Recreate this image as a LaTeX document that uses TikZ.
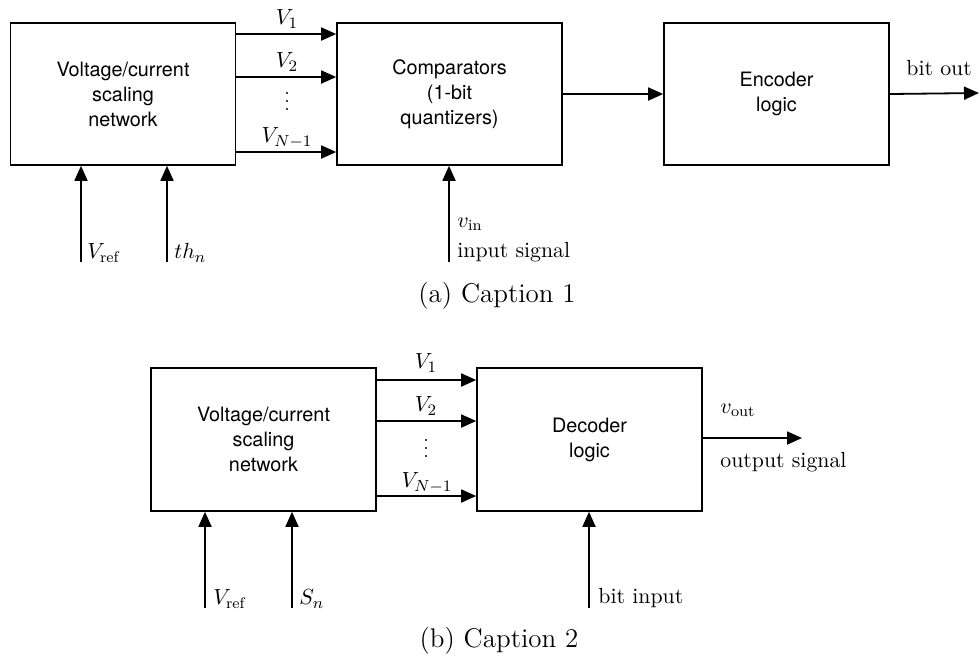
\documentclass[tikz,border=0pt]{standalone}
\usepackage{fontspec}
\newfontfamily\boxfont{TeX Gyre Heros}
\usetikzlibrary{arrows.meta}
\tikzset{
  blk/.style={draw, line width=0.8pt, inner sep=0pt, minimum width=112.5pt, minimum height=71pt,
              align=center, font=\boxfont\fontsize{9.9}{12.5}\selectfont},
  arr/.style={line width=0.9pt, -{Triangle[length=7.5pt,width=6.5pt]}},
  lbl/.style={inner sep=0pt, font=\fontsize{10.9}{13}\selectfont},
  captxt/.style={inner sep=0pt, font=\fontsize{13.5}{16}\selectfont},
  vdotsmark/.pic={\fill (0,-8) circle[radius=0.6pt]; \fill (0,0) circle[radius=0.6pt]; \fill (0,8) circle[radius=0.6pt];}
}
\begin{document}
\begin{tikzpicture}[x=0.5pt, y=-0.5pt]
\useasboundingbox (0,0) rectangle (979,661);
% ---------- (a) ----------
\node[blk] (A1) at (123,94) {Voltage/current\\scaling\\network};
\node[blk] (A2) at (449.5,94) {Comparators\\(1-bit\\quantizers)};
\node[blk] (A3) at (776.5,94) {Encoder\\logic};
\draw[arr] (A1.east |- 0,34) -- (A2.west |- 0,34);
\draw[arr] (A1.east |- 0,77) -- (A2.west |- 0,77);
\draw[arr] (A1.east |- 0,152) -- (A2.west |- 0,152);
\node[lbl] (la1) at (287,19) {$V_1$};
\node[lbl] (la2) at (287,62) {$V_2$};
\pic at (287,101) {vdotsmark};
\node[lbl] (la4) at (287,138) {$V_{N-1}$};
\draw[arr] (A2.east) -- (A3.west);
\coordinate (bo) at (979,93);
\draw[arr] (A3.east) -- (bo);
\node[lbl, anchor=west] (lbo) at (906,68) {bit out};
\coordinate (ra) at (81,262);
\coordinate (ta) at (167,262);
\coordinate (ia) at (449,262);
\draw[arr] (ra) -- (ra |- A1.south);
\draw[arr] (ta) -- (ta |- A1.south);
\draw[arr] (ia) -- (ia |- A2.south);
\node[lbl, anchor=west] (lra) at (87,253) {$V_{\mathrm{ref}}$};
\node[lbl, anchor=west] (lta) at (174,253) {$th_n$};
\node[lbl, anchor=west] (lvin) at (457,224) {$v_{\mathrm{in}}$};
\node[lbl, anchor=west] (lis) at (457,252) {input signal};
\node[captxt] (capa) at (497,296) {(a) Caption 1};
% ---------- (b) ----------
\node[blk, minimum height=71.5pt] (B1) at (263.5,439.5) {Voltage/current\\scaling\\network};
\node[blk, minimum height=71.5pt] (B2) at (589.5,439.5) {Decoder\\logic};
\draw[arr] (B1.east |- 0,380) -- (B2.west |- 0,380);
\draw[arr] (B1.east |- 0,421) -- (B2.west |- 0,421);
\draw[arr] (B1.east |- 0,496) -- (B2.west |- 0,496);
\node[lbl] (lb1) at (426,363) {$V_1$};
\node[lbl] (lb2) at (426,406) {$V_2$};
\pic at (426,448) {vdotsmark};
\node[lbl] (lb4) at (427,483) {$V_{N-1}$};
\coordinate (vo) at (802,438);
\draw[arr] (B2.east |- vo) -- (vo);
\node[lbl, anchor=west] (lvo) at (720,410) {$v_{\mathrm{out}}$};
\node[lbl, anchor=west] (los) at (720,462) {output signal};
\coordinate (rb) at (205,608);
\coordinate (sb) at (292,608);
\coordinate (bb) at (589,608);
\draw[arr] (rb) -- (rb |- B1.south);
\draw[arr] (sb) -- (sb |- B1.south);
\draw[arr] (bb) -- (bb |- B2.south);
\node[lbl, anchor=west] (lrb) at (213,599) {$V_{\mathrm{ref}}$};
\node[lbl, anchor=west] (lsb) at (299,599) {$S_n$};
\node[lbl, anchor=west] (lbi) at (598,598) {bit input};
\node[captxt] (capb) at (499,641) {(b) Caption 2};
\end{tikzpicture}
\end{document}
